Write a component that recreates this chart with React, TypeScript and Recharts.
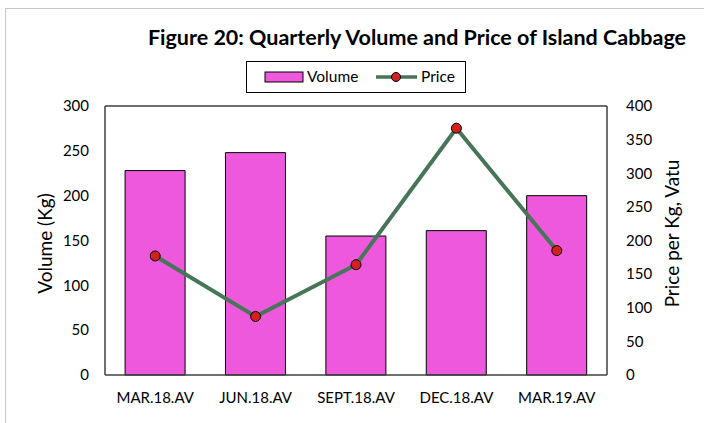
import React from 'react';
import {
  ComposedChart,
  Bar,
  Line,
  XAxis,
  YAxis,
  Legend,
  ReferenceLine,
  Label,
} from 'recharts';

const categories = ['MAR.18.AV', 'JUN.18.AV', 'SEPT.18.AV', 'DEC.18.AV', 'MAR.19.AV'];
const volumeValues = [228, 248, 155, 161, 200];
const priceValues = [177, 87, 164, 367, 185];
const volumeTicks = [0, 50, 100, 150, 200, 250, 300];
const priceTicks = [0, 50, 100, 150, 200, 250, 300, 350, 400];
const boundaryTicks = [0, 1, 2, 3, 4, 5];

const data = categories.map((c, i) => ({
  name: c,
  volume: volumeValues[i],
  price: priceValues[i],
}));

const FONT = 'Lato, "Open Sans", sans-serif';
const BAR_FILL = '#EE58DD';
const LINE_COLOR = '#467558';
const DOT_FILL = '#D22020';
const AXIS = '#404040';

const LegendContent = () => (
  <div
    style={{
      width: 220,
      height: 32,
      boxSizing: 'border-box',
      border: '1px solid #000',
      background: '#fff',
      fontFamily: FONT,
      color: '#000',
    }}
  >
    <svg width={218} height={30} style={{ display: 'block' }}>
      <rect x={18} y={10} width={38} height={10} fill={BAR_FILL} stroke="#000" strokeWidth={1} />
      <text x={60} y={20} fontFamily={FONT} fontSize={15.5} fill="#000">Volume</text>
      <line x1={129} y1={15} x2={170} y2={15} stroke={LINE_COLOR} strokeWidth={3.5} />
      <circle cx={149} cy={15} r={4.5} fill={DOT_FILL} stroke="#000" strokeWidth={1} />
      <text x={174} y={20} fontFamily={FONT} fontSize={15.5} fill="#000">Price</text>
    </svg>
  </div>
);

const vLabel = (text: string, dx: number, dy: number) => (props: any) => {
  const vb = props.viewBox || {};
  const x = vb.x + dx;
  const y = vb.y + vb.height / 2 + dy;
  return (
    <text
      x={x}
      y={y}
      transform={`rotate(-90 ${x} ${y})`}
      textAnchor="middle"
      dominantBaseline="central"
      fontFamily={FONT}
      fontSize={19}
      fill="#000"
    >
      {text}
    </text>
  );
};

export default function App() {
  return (
    <div style={{ position: 'absolute', left: 0, top: 0, width: 704, height: 423, background: '#fff', overflow: 'hidden' }}>
      <div
        style={{
          position: 'absolute',
          left: 5,
          top: 8,
          width: 720,
          height: 440,
          border: '1px solid #c8c8c8',
          boxSizing: 'border-box',
        }}
      />
      <div
        style={{
          position: 'absolute',
          left: 117,
          width: 600,
          top: 24,
          textAlign: 'center',
          fontFamily: FONT,
          fontWeight: 700,
          fontSize: 21.5,
          color: '#000',
          whiteSpace: 'nowrap',
        }}
      >
        Figure 20: Quarterly Volume and Price of Island Cabbage
      </div>
      <ComposedChart
        width={704}
        height={423}
        data={data}
        margin={{ top: 106, right: 37, bottom: 18, left: 45 }}
        barCategoryGap="20%"
        style={{ position: 'absolute', left: 0, top: 0 }}
      >
        <XAxis
          xAxisId="bounds"
          type="number"
          domain={[0, 5]}
          ticks={boundaryTicks}
          tick={false}
          tickLine={{ stroke: AXIS }}
          tickSize={6}
          axisLine={{ stroke: AXIS, strokeWidth: 1.5 }}
          height={6}
          allowDataOverflow
        />
        <XAxis
          xAxisId="cat"
          dataKey="name"
          axisLine={false}
          tickLine={false}
          tick={{ fontFamily: FONT, fontSize: 15, fill: '#000' }}
          tickMargin={5}
          height={24}
          interval={0}
        />
        <YAxis
          yAxisId="left"
          domain={[0, 300]}
          ticks={volumeTicks}
          axisLine={{ stroke: AXIS, strokeWidth: 1.5 }}
          tickLine={false}
          tickMargin={10}
          tick={{ fontFamily: FONT, fontSize: 15, fill: '#000' }}
          width={60}
        >
          <Label content={vLabel('Volume (Kg)', -1, 3)} />
        </YAxis>
        <YAxis
          yAxisId="right"
          orientation="right"
          domain={[0, 400]}
          ticks={priceTicks}
          axisLine={{ stroke: AXIS, strokeWidth: 1.5 }}
          tickLine={false}
          tickMargin={13}
          tick={{ fontFamily: FONT, fontSize: 15, fill: '#000', textAnchor: 'start' }}
          width={60}
        >
          <Label content={vLabel('Price per Kg, Vatu', 64, -7)} />
        </YAxis>
        <ReferenceLine yAxisId="left" xAxisId="cat" y={300} stroke={AXIS} strokeWidth={1.5} />
        <Legend
          layout="horizontal"
          verticalAlign="middle"
          align="center"
          content={<LegendContent />}
          wrapperStyle={{ position: 'absolute', left: 246, top: 61, width: 220, height: 32 }}
        />
        <Bar
          xAxisId="cat"
          yAxisId="left"
          dataKey="volume"
          name="Volume"
          fill={BAR_FILL}
          stroke="#000"
          strokeWidth={1}
          isAnimationActive={false}
        />
        <Line
          xAxisId="cat"
          yAxisId="right"
          dataKey="price"
          name="Price"
          stroke={LINE_COLOR}
          strokeWidth={4}
          dot={{ r: 5, fill: DOT_FILL, stroke: '#000', strokeWidth: 1 }}
          activeDot={false}
          isAnimationActive={false}
        />
      </ComposedChart>
    </div>
  );
}
